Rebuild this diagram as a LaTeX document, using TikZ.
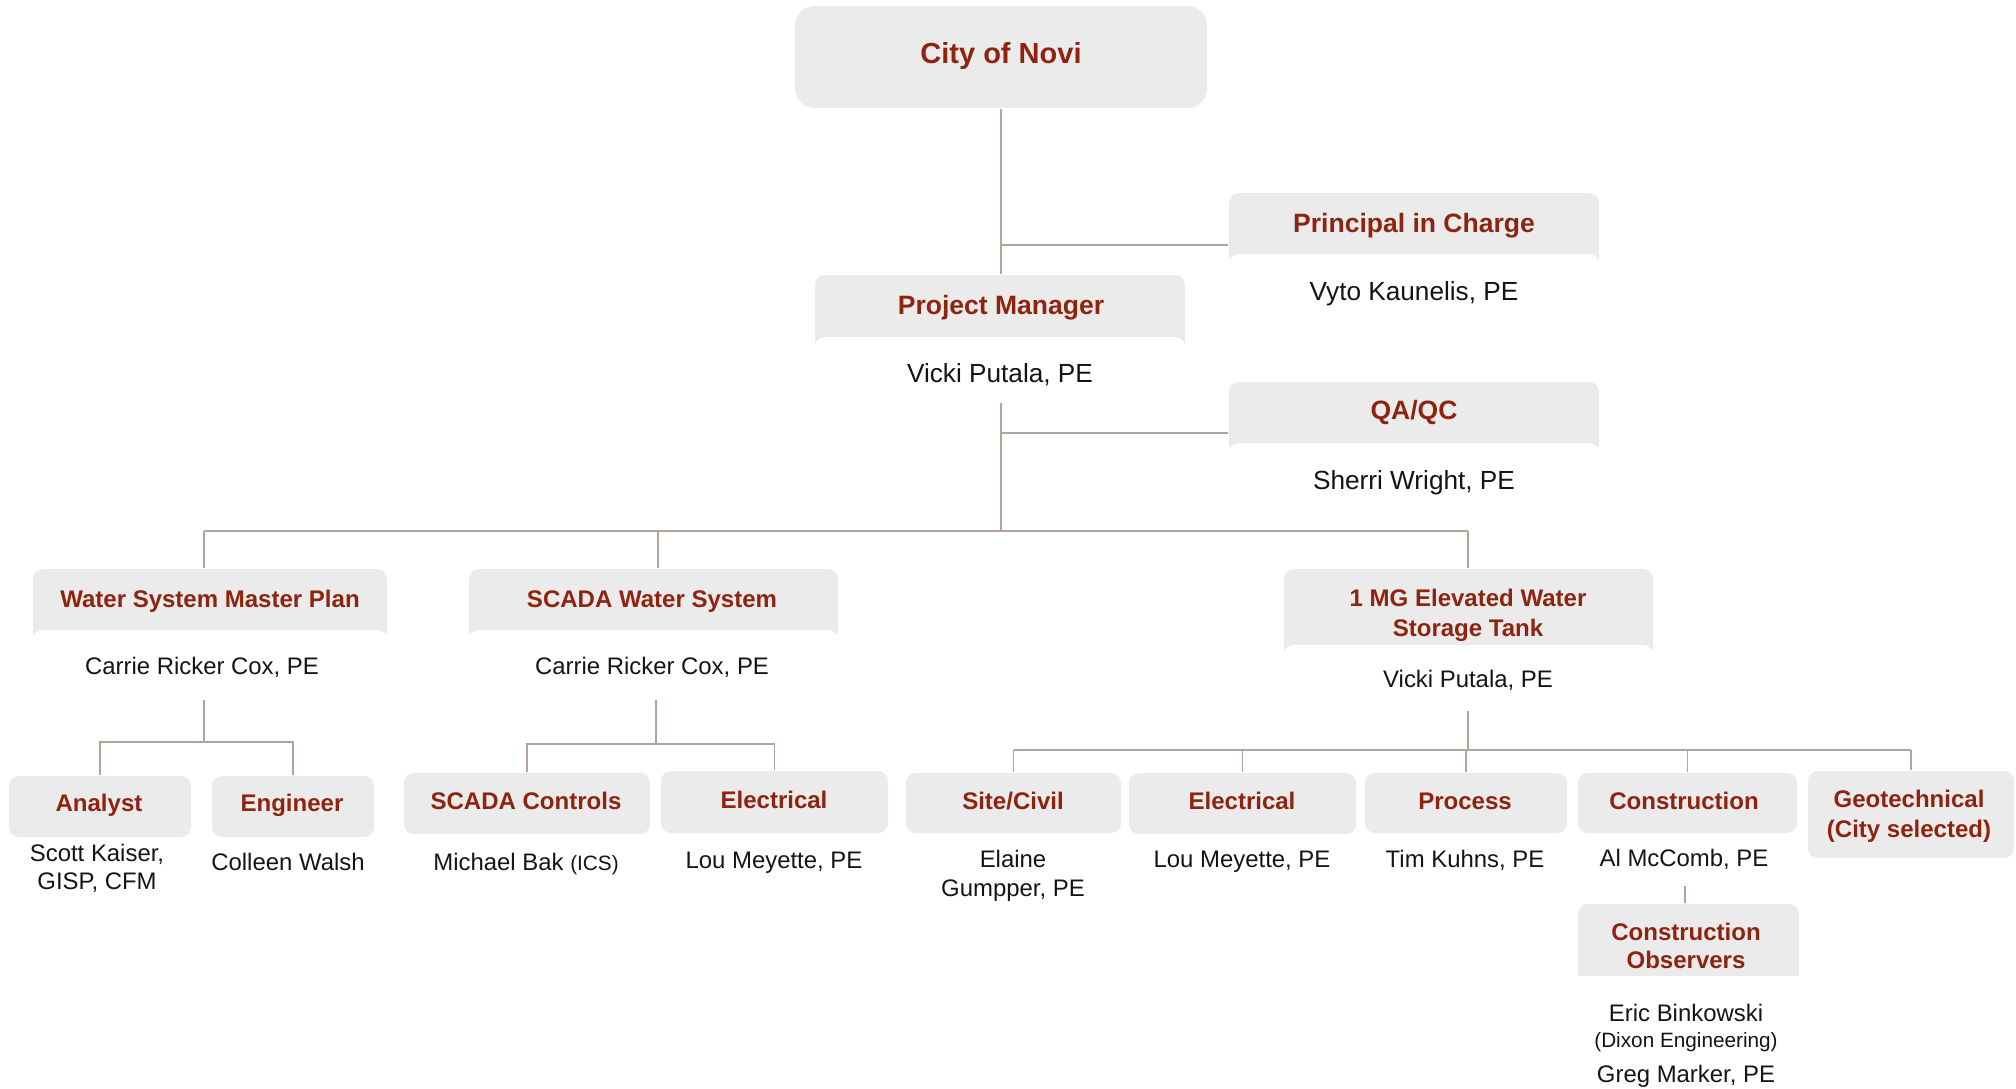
\documentclass[tikz,border=0pt]{standalone}
\usepackage{fontspec}
\setmainfont{Liberation Sans}
\usetikzlibrary{fit}
\definecolor{hdrgray}{HTML}{EBEBEB}
\definecolor{ttlred}{RGB}{142,36,16}
\definecolor{lncol}{RGB}{178,164,154}
\definecolor{nmcol}{RGB}{20,20,20}
\tikzset{
  graybox/.style={fill=hdrgray, draw=none, inner sep=0pt, rounded corners=2.8pt},
  bigbox/.style={fill=hdrgray, draw=none, inner sep=0pt, rounded corners=5.5pt},
  panel/.style={fill=white, draw=none, inner sep=0pt, rounded corners=2.8pt},
  flatpanel/.style={fill=white, draw=none, inner sep=0pt},
  conn/.style={draw=lncol, line width=0.4pt},
  citytxt/.style={text=ttlred, font=\bfseries\fontsize{8.25}{9.9}\selectfont, inner sep=0pt, anchor=base},
  toptitle/.style={text=ttlred, font=\bfseries\fontsize{7.54}{9}\selectfont, inner sep=0pt, anchor=base},
  topname/.style={text=nmcol, font=\fontsize{7.45}{9}\selectfont, inner sep=0pt, anchor=base},
  subtitle/.style={text=ttlred, font=\bfseries\fontsize{6.83}{8.2}\selectfont, inner sep=0pt, anchor=base},
  subname/.style={text=nmcol, font=\fontsize{6.8}{8.2}\selectfont, inner sep=0pt, anchor=base},
  multititle/.style={text=ttlred, font=\bfseries\fontsize{6.83}{8.5}\selectfont, inner sep=0pt, align=center, anchor=center},
  multiname/.style={text=nmcol, font=\fontsize{6.8}{8.0}\selectfont, inner sep=0pt, align=center, anchor=center},
  smallname/.style={text=nmcol, font=\fontsize{5.9}{7}\selectfont, inner sep=0pt, anchor=base}
}
\begin{document}
\begin{tikzpicture}[x=0.01cm, y=-0.01cm]
\useasboundingbox (0,0) rectangle (2016,1088);

% ---------- boxes ----------
\node[bigbox, fit={(795,6)(1207,108)}] (city) {};

\node[graybox, fit={(1229,193)(1599,268)}] (pic) {};
\node[panel, fit={(1229,254)(1599,300)}] (picp) {};

\node[graybox, fit={(815,275)(1185,350)}] (pm) {};
\node[panel, fit={(815,337)(1185,390)}] (pmp) {};

\node[graybox, fit={(1229,382)(1599,455)}] (qa) {};
\node[panel, fit={(1229,443)(1599,490)}] (qap) {};

\node[graybox, fit={(33,569)(387,642)}] (wsmp) {};
\node[panel, fit={(33,630)(387,680)}] (wsmpp) {};

\node[graybox, fit={(469,569)(838,642)}] (scws) {};
\node[panel, fit={(469,630)(838,680)}] (scwsp) {};

\node[graybox, fit={(1284,569)(1653,657)}] (tank) {};
\node[panel, fit={(1284,645)(1653,700)}] (tankp) {};

\node[graybox, fit={(9,776)(191,837)}] (analyst) {};
\node[graybox, fit={(212,776)(374,837)}] (engineer) {};
\node[graybox, fit={(404,773)(650,834)}] (scc) {};
\node[graybox, fit={(661,771)(888,833)}] (elec1) {};

\node[graybox, fit={(906,773)(1121,833)}] (site) {};
\node[graybox, fit={(1129,773)(1356,834)}] (elec2) {};
\node[graybox, fit={(1365,773)(1567,833)}] (proc) {};
\node[graybox, fit={(1578,773)(1797,833)}] (cons) {};
\node[graybox, fit={(1808,771)(2014,858)}] (geo) {};

\node[graybox, fit={(1578,904)(1799,990)}] (obs) {};
\node[flatpanel, fit={(1570,976)(1810,1000)}] (obsp) {};

% ---------- connectors ----------
\coordinate (j1) at (1001,245);
\coordinate (pmb) at (1001,403);
\coordinate (j2) at (1001,433);
\coordinate (busL) at (204,531);
\coordinate (busM) at (658,531);
\coordinate (busR) at (1468,531);
\coordinate (wb) at (204,700);
\coordinate (wbus) at (204,742);
\coordinate (sb) at (656,700);
\coordinate (sbus) at (656,744);
\coordinate (tb) at (1468,711);
\coordinate (tbus) at (1468,750);
\coordinate (cb) at (1685,886);

\draw[conn] (city.south) -- (city.south |- pm.north);
\draw[conn] (j1) -- (j1 -| pic.west);
\draw[conn] (pmb) -- (pmb |- busL);
\draw[conn] (j2) -- (j2 -| qa.west);
\draw[conn] (busL) -- (busR);
\draw[conn] (busL) -- (busL |- wsmp.north);
\draw[conn] (busM) -- (busM |- scws.north);
\draw[conn] (busR) -- (busR |- tank.north);

\draw[conn] (wb) -- (wbus);
\draw[conn] (analyst.north) -- (analyst.north |- wbus) -- (engineer.north |- wbus) -- (engineer.north);

\draw[conn] (sb) -- (sbus);
\draw[conn] (scc.north) -- (scc.north |- sbus) -- (elec1.north |- sbus) -- (elec1.north);

\draw[conn] (tb) -- (tbus);
\draw[conn] (site.north |- tbus) -- (geo.north |- tbus);
\draw[conn] (site.north |- tbus) -- (site.north);
\draw[conn] (elec2.north |- tbus) -- (elec2.north);
\draw[conn] (proc.north |- tbus) -- (proc.north);
\draw[conn] (cons.north |- tbus) -- (cons.north);
\draw[conn] (geo.north |- tbus) -- (geo.north);

\draw[conn] (cb) -- (cb |- obs.north);

% ---------- texts ----------
\node[citytxt] (tcity) at (1001,64) {City of Novi};

\node[toptitle] (tpic) at (1414,232.5) {Principal in Charge};
\node[topname] (npic) at (1414,300) {Vyto Kaunelis, PE};

\node[toptitle] (tpm) at (1001,314.5) {Project Manager};
\node[topname] (npm) at (1000,382) {Vicki Putala, PE};

\node[toptitle] (tqa) at (1414,419.5) {QA/QC};
\node[topname] (nqa) at (1414,489) {Sherri Wright, PE};

\node[subtitle] (twsmp) at (210,607) {Water System Master Plan};
\node[subname] (nwsmp) at (202,674) {Carrie Ricker Cox, PE};

\node[subtitle] (tscws) at (652,607) {SCADA Water System};
\node[subname] (nscws) at (652,674) {Carrie Ricker Cox, PE};

\node[multititle] (ttank) at (1468,615) {1 MG Elevated Water\\Storage Tank};
\node[subname] (ntank) at (1468,687.6) {Vicki Putala, PE};

\node[subtitle] (tanalyst) at (99,811.6) {Analyst};
\node[multiname] (nanalyst) at (97,868.5) {Scott Kaiser,\\GISP, CFM};
\node[subtitle] (tengineer) at (292,811.6) {Engineer};
\node[subname] (nengineer) at (288,870.6) {Colleen Walsh};

\node[subtitle] (tscc) at (526,809.6) {SCADA Controls};
\node[subname] (nscc) at (526,870.6) {Michael Bak {\fontsize{5.9}{7}\selectfont(ICS)}};
\node[subtitle] (telec1) at (774,808.6) {Electrical};
\node[subname] (nelec1) at (774,868.6) {Lou Meyette, PE};

\node[subtitle] (tsite) at (1013,809.6) {Site/Civil};
\node[multiname, font=\fontsize{6.8}{8.25}\selectfont] (nsite) at (1013,876) {Elaine\\Gumpper, PE};
\node[subtitle] (telec2) at (1242,809.6) {Electrical};
\node[subname] (nelec2) at (1242,867.6) {Lou Meyette, PE};
\node[subtitle] (tproc) at (1465,809.6) {Process};
\node[subname] (nproc) at (1465,867.6) {Tim Kuhns, PE};
\node[subtitle] (tcons) at (1684,809.6) {Construction};
\node[subname] (ncons) at (1684,866.6) {Al McComb, PE};
\node[multititle] (tgeo) at (1909,816) {Geotechnical\\(City selected)};

\node[multititle, font=\bfseries\fontsize{6.83}{7.97}\selectfont] (tobs) at (1686,946) {Construction\\Observers};
\node[subname] (nobs1) at (1686,1021.6) {Eric Binkowski};
\node[smallname] (nobs2) at (1686,1047.4) {(Dixon Engineering)};
\node[subname] (nobs3) at (1686,1082.6) {Greg Marker, PE};
\end{tikzpicture}
\end{document}
